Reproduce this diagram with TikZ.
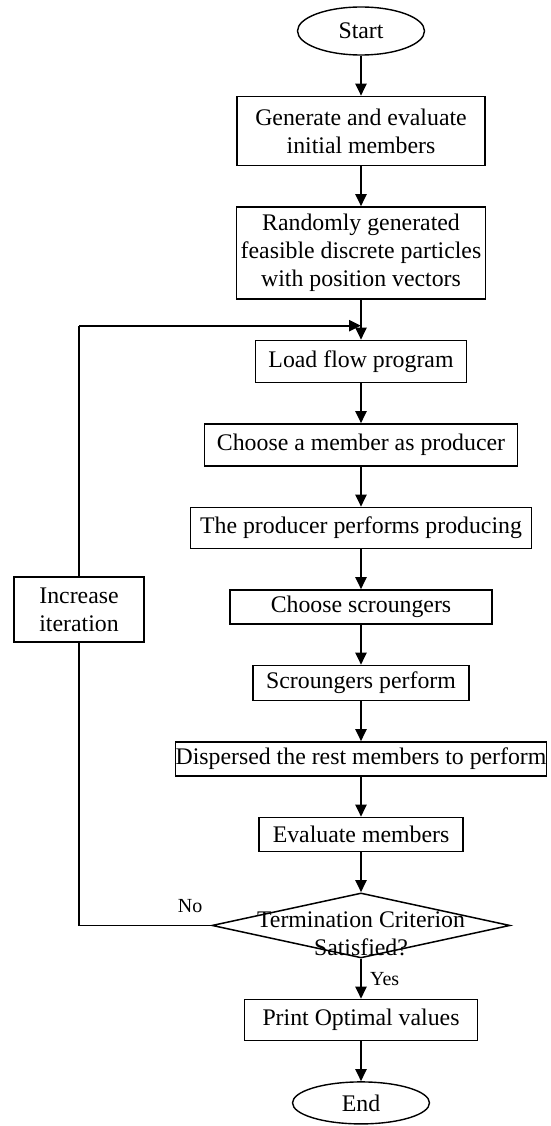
\documentclass[tikz,border=0pt]{standalone}
\usepackage{fontspec}
\setmainfont{Liberation Serif}
\usetikzlibrary{shapes.geometric, arrows.meta, positioning}

\begin{document}
\begin{tikzpicture}[
    x=1pt, y=-1pt,
    terminal/.style={ellipse, draw, line width=1.4pt, inner sep=0pt, font=\fontsize{23.8}{28}\selectfont},
    proc/.style={rectangle, draw, line width=1.5pt, inner xsep=4pt, inner ysep=3pt, minimum height=34pt, align=center, font=\fontsize{23.8}{28}\selectfont},
    decision/.style={diamond, draw, line width=1.5pt, inner sep=0pt, minimum width=298pt, minimum height=65pt},
    arrow/.style={-{Triangle[length=12pt, width=11pt]}, line width=2.3pt},
    loopline/.style={line width=1.5pt},
    tag/.style={font=\fontsize{20}{24}\selectfont, inner sep=2pt},
    node distance=40pt
]
\useasboundingbox (0,0) rectangle (550,1126);

% Main column
\node[terminal, minimum width=127pt, minimum height=48pt] (start) at (361,31) {Start};
\node[proc, minimum width=248pt, minimum height=69pt, below=of start] (init) {Generate and evaluate\\initial members};
\node[proc, minimum width=247pt, minimum height=92pt, below=of init] (rand) {Randomly generated\\feasible discrete particles\\with position vectors};
\node[proc, minimum width=211pt, minimum height=42pt, below=of rand] (load) {Load flow program};
\node[proc, minimum width=313pt, minimum height=42pt, below=of load] (choose) {Choose a member as producer};
\node[proc, minimum width=341pt, minimum height=41pt, below=of choose] (produce) {The producer performs producing};
\node[proc, minimum width=262pt, below=of produce] (chscr) {Choose scroungers};
\node[proc, minimum width=216pt, minimum height=35pt, below=of chscr] (scr) {Scroungers perform};
\node[proc, inner xsep=0pt, below=of scr] (disp) {Dispersed the rest members to perform};
\node[proc, minimum width=204pt, below=of disp] (eval) {Evaluate members};
\node[decision, below=of eval] (crit) {};
\node[align=center, inner sep=0pt, font=\fontsize{23.8}{28}\selectfont] (critlabel) at ([yshift=-8pt]crit.center) {Termination Criterion\\Satisfied?};
\node[proc, minimum width=233pt, minimum height=41pt, below=of crit] (print) {Print Optimal values};
\node[terminal, minimum width=137pt, minimum height=42pt, below=of print] (end) {End};

% Loop back
\node[proc, minimum width=130pt, minimum height=65pt] (inc) at (79,609.5) {Increase\\iteration};
\coordinate (join) at ([yshift=-26pt]rand.south);
\coordinate (corner) at (inc.north |- join);

% Connections
\draw[arrow] (start) -- (init);
\draw[arrow] (init) -- (rand);
\draw[arrow] (rand) -- (load);
\draw[arrow] (load) -- (choose);
\draw[arrow] (choose) -- (produce);
\draw[arrow] (produce) -- (chscr);
\draw[arrow] (chscr) -- (scr);
\draw[arrow] (scr) -- (disp);
\draw[arrow] (disp) -- (eval);
\draw[arrow] (eval) -- (crit);
\draw[arrow] (crit) -- node[tag, right=6pt] (yes) {Yes} (print);
\draw[arrow] (print) -- (end);
\draw[loopline] (crit.west) -| node[tag, above=10pt, pos=0.08] (no) {No} (inc.south);
\draw[loopline] (inc.north) -- (corner);
\draw[arrow] (corner) -- (join);

\end{tikzpicture}
\end{document}
